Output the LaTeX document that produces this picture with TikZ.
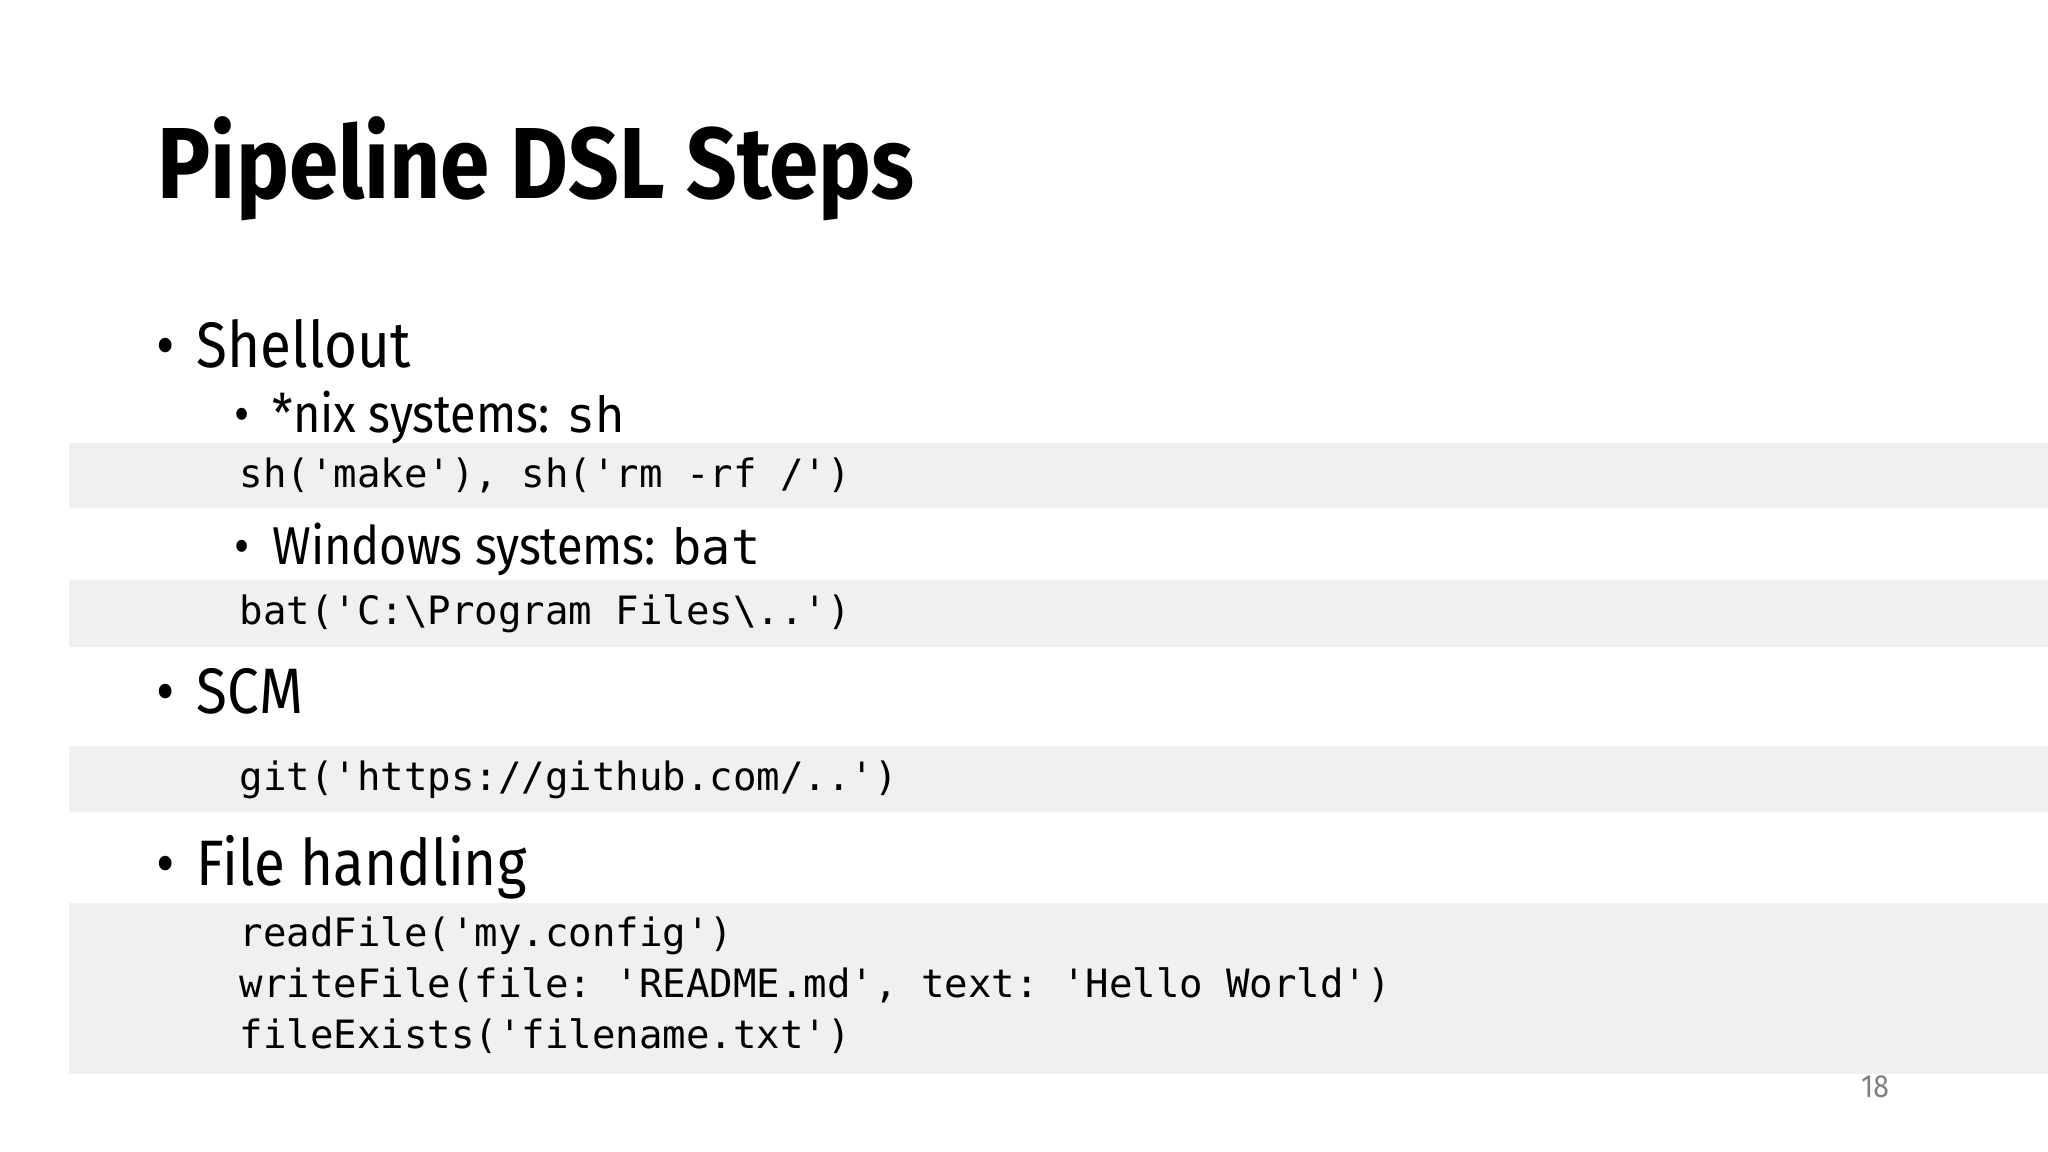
\documentclass[tikz,border=0pt]{standalone}
\usepackage{fontspec}
\setmainfont[FakeStretch=0.88]{Fira Sans}
\setmonofont{DejaVu Sans Mono}
\begin{document}
\begin{tikzpicture}[x=0.1mm,y=-0.1mm,
  band/.style={fill=bandgray,draw=none},
  t/.style={anchor=base west,inner sep=0pt,text=black},
  lone/.style={t,font=\fontsize{14}{17}\selectfont},
  ltwo/.style={t,font=\fontsize{11.6}{14}\selectfont},
  code/.style={t,font=\fontsize{8.5}{11}\ttfamily},
  bul/.style={anchor=base,inner sep=0pt}]
\definecolor{bandgray}{HTML}{F0F0F0}
\useasboundingbox[fill=white] (0,0) rectangle (1568,882);
\fill[band] (53,339) rectangle (1568,389);
\fill[band] (53,444) rectangle (1568,495);
\fill[band] (53,571) rectangle (1568,622);
\fill[band] (53,691) rectangle (1568,822);
\node[t,font=\fontsize{22}{26}\selectfont\bfseries] (title) at (120,152) {Pipeline DSL Steps};
\node[lone] (b1) at (119,281) {\textbullet};
\node[lone] (s1) at (150,281) {Shellout};
\node[ltwo] (b2) at (179,331) {\textbullet};
\node[ltwo] (s2) at (208,331) {*nix systems: {\fontsize{10.6}{14}\ttfamily sh}};
\node[code] (c1) at (183,373) {sh('make'), sh('rm -rf /')};
\node[ltwo] (b3) at (179,432) {\textbullet};
\node[ltwo] (s3) at (208,432) {Windows systems: {\fontsize{10.6}{14}\ttfamily bat}};
\node[code] (c2) at (183,478) {bat('C:\textbackslash Program Files\textbackslash..')};
\node[lone] (b4) at (119,546) {\textbullet};
\node[lone] (s4) at (150,546) {SCM};
\node[code] (c3) at (183,605) {git('https://github.com/..')};
\node[lone] (b5) at (119,678) {\textbullet};
\node[lone] (s5) at (150,678) {File handling};
\node[code] (c4) at (183,725) {readFile('my.config')};
\node[code] (c5) at (183,764) {writeFile(file: 'README.md', text: 'Hello World')};
\node[code] (c6) at (183,803) {fileExists('filename.txt')};
\node[anchor=base east,inner sep=0pt,text=gray,font=\fontsize{7}{8}\selectfont] (pg) at (1447,840) {18};
\end{tikzpicture}
\end{document}
